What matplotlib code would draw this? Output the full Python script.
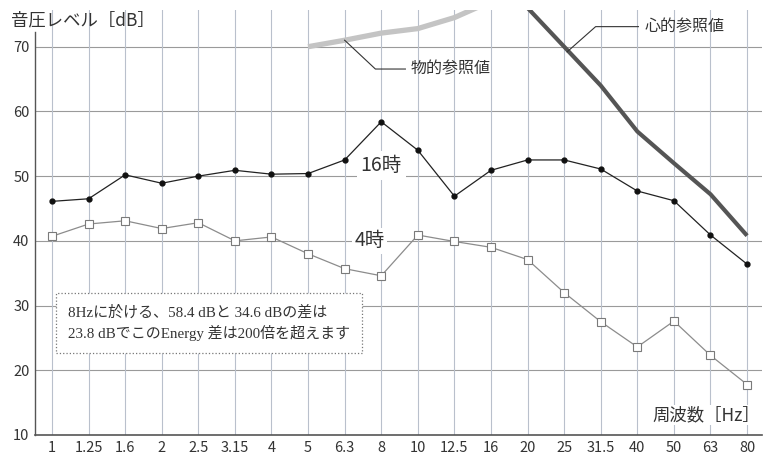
import matplotlib
matplotlib.use("Agg")
import matplotlib.pyplot as plt

plt.rcParams['font.family'] = ['Noto Sans CJK JP', 'DejaVu Sans']

freqs = ["1", "1.25", "1.6", "2", "2.5", "3.15", "4", "5", "6.3", "8",
         "10", "12.5", "16", "20", "25", "31.5", "40", "50", "63", "80"]
lv_16 = [46.1, 46.5, 50.2, 48.9, 50.0, 50.9, 50.3, 50.4, 52.5, 58.4,
         54.0, 46.9, 50.9, 52.5, 52.5, 51.1, 47.7, 46.2, 40.9, 36.4]
lv_4 = [40.7, 42.6, 43.1, 41.9, 42.8, 40.0, 40.6, 38.0, 35.7, 34.6,
        40.9, 39.9, 39.0, 37.1, 32.0, 27.5, 23.6, 27.6, 22.3, 17.8]
# reference curves (only the visible part)
phys_idx = [7, 8, 9, 10, 11, 12]
phys_val = [70.0, 71.0, 72.1, 72.8, 74.5, 77.0]
psy_idx = [13, 14, 15, 16, 17, 18, 19]
psy_val = [76.0, 70.0, 64.0, 56.9, 52.0, 47.2, 40.8]

x = list(range(len(freqs)))

fig = plt.figure(figsize=(7.69, 4.55), dpi=100)
ax = fig.add_axes([0.0455, 0.044, 0.9455, 0.934])

for yv in [20, 30, 40, 50, 60, 70]:
    ax.axhline(yv, color='#9a9a9a', lw=0.8, zorder=1)
for xi in x:
    ax.axvline(xi, color='#b9c0cc', lw=0.8, zorder=1)

ax.plot(phys_idx, phys_val, color='#c4c4c4', lw=3.8, solid_capstyle='butt', zorder=3)
ax.plot(psy_idx, psy_val, color='#555555', lw=3.0, solid_capstyle='butt', zorder=3)

ax.plot(x, lv_4, color='#8c8c8c', lw=0.9, marker='s', ms=5.5,
        mfc='white', mec='#7a7a7a', mew=0.8, zorder=4)
ax.plot(x, lv_16, color='#222222', lw=0.9, marker='o', ms=3.5,
        mfc='#111111', mec='#111111', zorder=4)

# leader lines
ax.plot([8, 8.84, 9.66], [71.0, 66.55, 66.55], color='#333333', lw=0.8, zorder=5)
ax.text(9.8, 66.5, "物的参照値", fontsize=11.5, va='center', ha='left', color='#333333', zorder=6)
ax.plot([14.08, 14.86, 16.03], [69.2, 73.1, 73.1], color='#333333', lw=0.8, zorder=5)
ax.text(16.2, 73.1, "心的参照値", fontsize=11.5, va='center', ha='left', color='#333333', zorder=6)

# series labels
ax.text(9.0, 51.6, "16時", fontsize=14, va='center', ha='center', color='#333333',
        bbox=dict(facecolor='white', edgecolor='none', pad=3), zorder=6)
ax.text(8.68, 40.0, "4時", fontsize=14, va='center', ha='center', color='#333333',
        bbox=dict(facecolor='white', edgecolor='none', pad=2), zorder=6)

# note box
ax.text(0.44, 27.3, "8Hzに於ける、58.4 dBと 34.6 dBの差は\n23.8 dBでこのEnergy 差は200倍を超えます",
        fontsize=10.8, va='center', ha='left', color='#333333', linespacing=1.4,
        family=['Liberation Serif', 'Noto Sans CJK JP'],
        bbox=dict(facecolor='white', edgecolor='#777777', linestyle=':', lw=0.9,
                  boxstyle='square,pad=0.8'), zorder=6)

ax.set_xlim(-0.465, 19.41)
ax.set_ylim(10, 75.67)
ax.set_xticks(x)
ax.set_xticklabels(freqs)
ax.set_yticks([10, 20, 30, 40, 50, 60, 70])
ax.tick_params(length=0, labelsize=10.5, labelcolor='#333333', pad=4)
for s in ['top', 'right']:
    ax.spines[s].set_visible(False)
ax.spines['left'].set_bounds(10, 72.3)
ax.spines['left'].set_color('#555555')
ax.spines['bottom'].set_color('#555555')
ax.spines['left'].set_linewidth(1.0)
ax.spines['bottom'].set_linewidth(1.2)

fig.text(0.014, 0.956, "音圧レベル［dB］", fontsize=12.5, va='center', ha='left', color='#333333')
ax.text(19.35, 13.1, "周波数［Hz］", fontsize=12.5, va='center', ha='right', color='#333333',
        bbox=dict(facecolor='white', edgecolor='none', pad=1), zorder=6)

fig.savefig("out.png", dpi=100)
